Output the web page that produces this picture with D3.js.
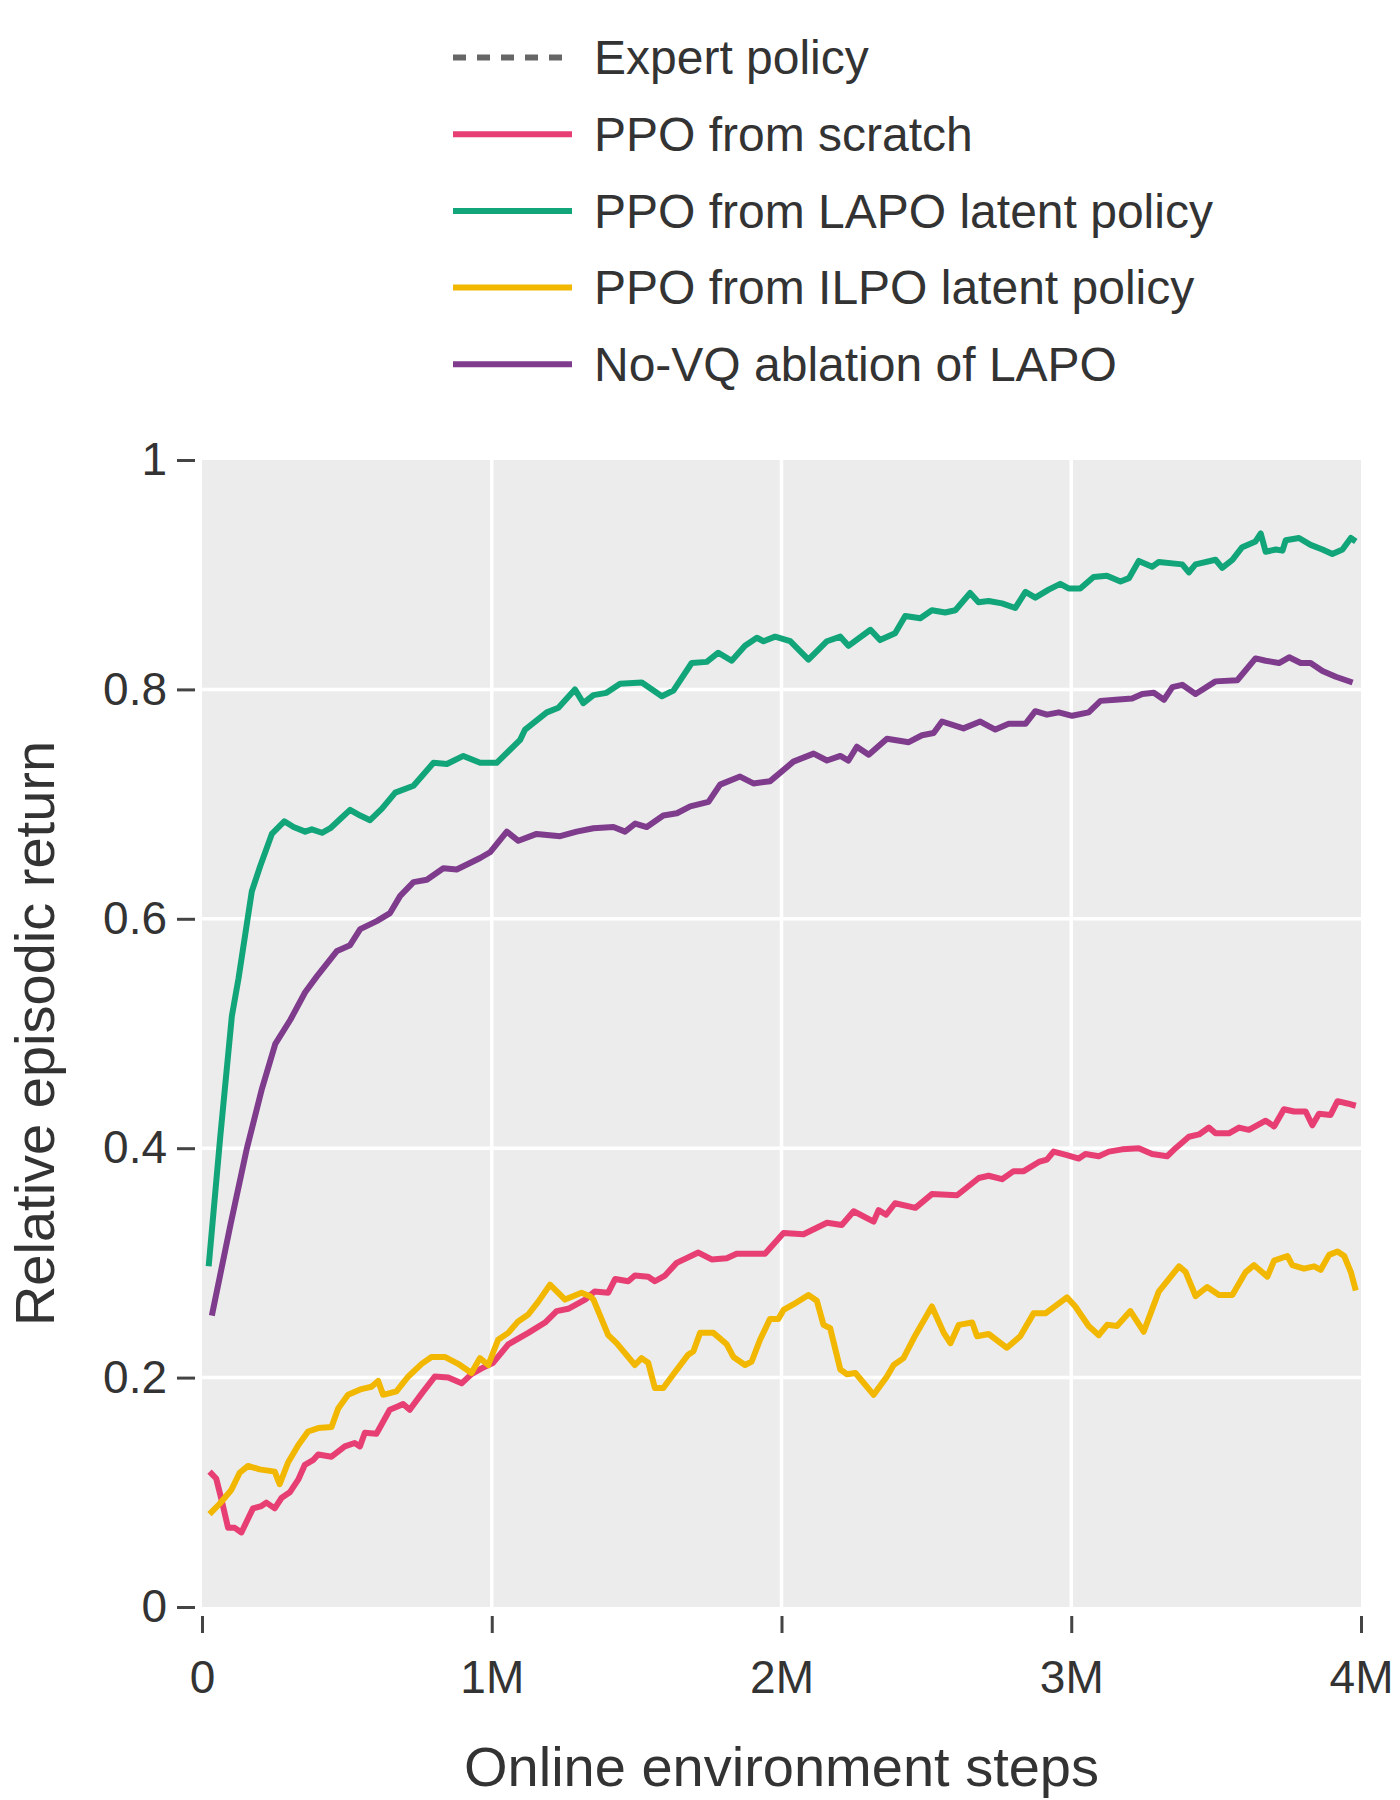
<!DOCTYPE html>
<html>
<head>
<meta charset="utf-8">
<script src="https://cdn.jsdelivr.net/npm/d3@7"></script>
<style>
  body { margin: 0; background: #fff; }
  text { font-family: "Liberation Sans", Arial, sans-serif; fill: #333; }
</style>
</head>
<body>
<svg id="chart"></svg>
<script>
// Each series is [steps in millions, relative episodic return]
const scratch = [
  [0.026,0.118],[0.049,0.112],[0.067,0.094],[0.090,0.069],[0.113,0.069],[0.136,0.065],[0.176,0.086],[0.205,0.088],
  [0.222,0.091],[0.251,0.086],[0.274,0.095],[0.303,0.100],[0.332,0.111],[0.355,0.124],[0.383,0.128],[0.401,0.133],
  [0.447,0.131],[0.493,0.140],[0.527,0.143],[0.545,0.140],[0.562,0.152],[0.602,0.151],[0.648,0.172],[0.677,0.175],
  [0.694,0.177],[0.717,0.172],[0.758,0.186],[0.804,0.201],[0.850,0.200],[0.896,0.195],[0.930,0.203],[0.965,0.208],
  [1.005,0.213],[1.057,0.229],[1.126,0.239],[1.184,0.248],[1.224,0.258],[1.264,0.260],[1.322,0.268],[1.355,0.275],
  [1.402,0.274],[1.426,0.286],[1.471,0.284],[1.494,0.289],[1.540,0.288],[1.563,0.284],[1.598,0.289],[1.638,0.300],
  [1.713,0.309],[1.759,0.303],[1.811,0.304],[1.845,0.308],[1.943,0.308],[2.007,0.326],[2.076,0.325],[2.157,0.335],
  [2.208,0.333],[2.249,0.345],[2.318,0.336],[2.335,0.346],[2.361,0.342],[2.392,0.352],[2.462,0.348],[2.519,0.360],
  [2.606,0.359],[2.681,0.374],[2.715,0.376],[2.761,0.373],[2.801,0.380],[2.836,0.380],[2.888,0.388],[2.916,0.390],
  [2.939,0.397],[2.985,0.394],[3.026,0.391],[3.049,0.395],[3.095,0.393],[3.130,0.397],[3.176,0.399],[3.233,0.400],
  [3.279,0.395],[3.331,0.393],[3.360,0.400],[3.406,0.410],[3.441,0.412],[3.475,0.418],[3.498,0.413],[3.544,0.413],
  [3.579,0.418],[3.613,0.416],[3.671,0.424],[3.700,0.419],[3.734,0.434],[3.769,0.432],[3.809,0.432],[3.832,0.420],
  [3.855,0.430],[3.895,0.429],[3.919,0.441],[3.953,0.439],[3.982,0.437]
];

const lapo = [
  [0.023,0.297],[0.063,0.410],[0.103,0.515],[0.126,0.548],[0.155,0.596],[0.172,0.624],[0.201,0.646],[0.241,0.674],
  [0.284,0.685],[0.316,0.680],[0.356,0.676],[0.379,0.678],[0.414,0.675],[0.443,0.679],[0.477,0.687],[0.511,0.695],
  [0.546,0.690],[0.580,0.686],[0.621,0.696],[0.667,0.710],[0.730,0.716],[0.799,0.736],[0.845,0.735],[0.902,0.742],
  [0.960,0.736],[1.017,0.736],[1.098,0.756],[1.115,0.765],[1.190,0.780],[1.230,0.784],[1.287,0.800],[1.316,0.788],
  [1.351,0.795],[1.396,0.797],[1.443,0.805],[1.518,0.806],[1.587,0.794],[1.627,0.799],[1.690,0.823],[1.742,0.824],
  [1.782,0.832],[1.828,0.825],[1.874,0.838],[1.915,0.845],[1.938,0.842],[1.978,0.846],[2.030,0.842],[2.093,0.826],
  [2.157,0.842],[2.203,0.846],[2.231,0.838],[2.307,0.852],[2.340,0.843],[2.392,0.849],[2.427,0.864],[2.479,0.862],
  [2.519,0.869],[2.565,0.867],[2.600,0.869],[2.651,0.884],[2.680,0.876],[2.715,0.877],[2.761,0.875],[2.807,0.871],
  [2.842,0.885],[2.876,0.880],[2.922,0.887],[2.962,0.892],[2.991,0.888],[3.031,0.888],[3.077,0.898],[3.123,0.899],
  [3.170,0.894],[3.199,0.897],[3.233,0.912],[3.279,0.907],[3.302,0.911],[3.383,0.909],[3.406,0.902],[3.429,0.909],
  [3.498,0.913],[3.521,0.906],[3.556,0.913],[3.590,0.924],[3.636,0.929],[3.654,0.936],[3.671,0.920],[3.706,0.922],
  [3.729,0.921],[3.740,0.930],[3.786,0.932],[3.826,0.926],[3.867,0.922],[3.901,0.918],[3.936,0.922],[3.965,0.932],
  [3.982,0.929]
];

const ilpo = [
  [0.026,0.081],[0.061,0.090],[0.101,0.102],[0.130,0.117],[0.159,0.123],[0.199,0.120],[0.251,0.118],[0.268,0.107],
  [0.297,0.126],[0.332,0.141],[0.366,0.153],[0.401,0.156],[0.447,0.157],[0.470,0.173],[0.504,0.185],[0.550,0.190],
  [0.585,0.192],[0.608,0.197],[0.625,0.185],[0.671,0.188],[0.712,0.201],[0.758,0.212],[0.792,0.218],[0.838,0.218],
  [0.884,0.212],[0.930,0.204],[0.959,0.217],[0.988,0.211],[1.022,0.233],[1.057,0.239],[1.091,0.249],[1.126,0.255],
  [1.160,0.266],[1.201,0.281],[1.253,0.268],[1.310,0.274],[1.339,0.271],[1.351,0.268],[1.402,0.237],[1.431,0.230],
  [1.494,0.211],[1.517,0.217],[1.540,0.213],[1.563,0.191],[1.592,0.191],[1.627,0.203],[1.678,0.220],[1.696,0.223],
  [1.719,0.239],[1.765,0.239],[1.811,0.229],[1.834,0.218],[1.874,0.211],[1.897,0.214],[1.926,0.233],[1.960,0.251],
  [1.989,0.251],[2.007,0.259],[2.042,0.264],[2.093,0.272],[2.122,0.267],[2.145,0.246],[2.168,0.243],[2.203,0.207],
  [2.226,0.203],[2.255,0.204],[2.318,0.185],[2.364,0.201],[2.387,0.211],[2.421,0.217],[2.462,0.237],[2.519,0.262],
  [2.560,0.239],[2.583,0.230],[2.612,0.246],[2.658,0.248],[2.675,0.236],[2.715,0.238],[2.778,0.226],[2.824,0.236],
  [2.870,0.256],[2.911,0.256],[2.985,0.270],[3.014,0.262],[3.060,0.245],[3.095,0.237],[3.124,0.246],[3.158,0.245],
  [3.204,0.258],[3.250,0.240],[3.302,0.275],[3.372,0.297],[3.395,0.292],[3.429,0.271],[3.469,0.279],[3.510,0.272],
  [3.556,0.272],[3.602,0.292],[3.631,0.298],[3.677,0.288],[3.700,0.302],[3.746,0.306],[3.763,0.298],[3.803,0.295],
  [3.838,0.297],[3.861,0.294],[3.890,0.307],[3.919,0.310],[3.942,0.306],[3.965,0.292],[3.982,0.276]
];

const noVq = [
  [0.034,0.254],[0.098,0.333],[0.155,0.400],[0.207,0.452],[0.253,0.491],[0.305,0.512],[0.356,0.536],[0.397,0.550],
  [0.466,0.572],[0.511,0.577],[0.546,0.591],[0.603,0.598],[0.649,0.605],[0.684,0.620],[0.730,0.632],[0.776,0.634],
  [0.833,0.644],[0.879,0.643],[0.960,0.653],[0.994,0.658],[1.052,0.676],[1.092,0.668],[1.155,0.674],[1.236,0.672],
  [1.293,0.676],[1.351,0.679],[1.420,0.680],[1.460,0.676],[1.495,0.683],[1.535,0.680],[1.592,0.690],[1.639,0.692],
  [1.685,0.698],[1.748,0.702],[1.788,0.717],[1.857,0.724],[1.903,0.718],[1.961,0.720],[2.041,0.737],[2.111,0.744],
  [2.157,0.738],[2.203,0.742],[2.231,0.738],[2.260,0.750],[2.301,0.743],[2.364,0.757],[2.439,0.754],[2.485,0.760],
  [2.525,0.762],[2.554,0.772],[2.628,0.766],[2.686,0.772],[2.715,0.768],[2.738,0.765],[2.784,0.770],[2.842,0.770],
  [2.876,0.781],[2.916,0.778],[2.957,0.780],[3.003,0.777],[3.060,0.780],[3.101,0.790],[3.153,0.791],[3.210,0.792],
  [3.245,0.796],[3.285,0.797],[3.320,0.791],[3.349,0.802],[3.383,0.804],[3.429,0.796],[3.498,0.807],[3.573,0.808],
  [3.636,0.827],[3.671,0.825],[3.717,0.823],[3.752,0.828],[3.792,0.823],[3.826,0.823],[3.867,0.816],[3.913,0.811],
  [3.971,0.806]
];

const legendLabels = ["Expert policy", "PPO from scratch", "PPO from LAPO latent policy",
                      "PPO from ILPO latent policy", "No-VQ ablation of LAPO"];
const legendColors = ["#666666", "#e73f74", "#11a579", "#f2b701", "#7f3c8d"];
const seriesData = [null, scratch, lapo, ilpo, noVq];

const xTicks = [0, 1, 2, 3, 4];
const yTicks = [0, 0.2, 0.4, 0.6, 0.8, 1];

const width = 1400, height = 1800;
const plot = {left: 202, right: 1361, top: 460, bottom: 1607};

const svg = d3.select("#chart")
    .attr("width", width)
    .attr("height", height);

const x = d3.scaleLinear().domain([0, 4]).range([plot.left, plot.right]);
const y = d3.scaleLinear().domain([0, 1]).range([plot.bottom, plot.top]);

// Grey panel and white grid
svg.append("rect")
    .attr("x", plot.left)
    .attr("y", plot.top)
    .attr("width", plot.right - plot.left)
    .attr("height", plot.bottom - plot.top)
    .attr("fill", "#ececec");

svg.append("g").selectAll("line")
    .data(xTicks.slice(1, -1))
    .enter().append("line")
    .attr("x1", d => x(d)).attr("x2", d => x(d))
    .attr("y1", plot.top).attr("y2", plot.bottom)
    .attr("stroke", "#fff").attr("stroke-width", 3.5);

svg.append("g").selectAll("line")
    .data(yTicks.slice(1, -1))
    .enter().append("line")
    .attr("x1", plot.left).attr("x2", plot.right)
    .attr("y1", d => y(d)).attr("y2", d => y(d))
    .attr("stroke", "#fff").attr("stroke-width", 3.5);

// Axes, set a little away from the panel
const yAxis = svg.append("g")
    .attr("transform", "translate(195,0)")
    .call(d3.axisLeft(y).tickValues(yTicks).tickSize(18).tickPadding(10)
        .tickFormat(d => String(+d.toFixed(1))));

const xAxis = svg.append("g")
    .attr("transform", "translate(0,1616)")
    .call(d3.axisBottom(x).tickValues(xTicks).tickSize(17).tickPadding(27)
        .tickFormat(d => d === 0 ? "0" : d + "M"));

[xAxis, yAxis].forEach(a => {
    a.select(".domain").remove();
    a.selectAll(".tick line").attr("stroke", "#444").attr("stroke-width", 3);
    a.selectAll(".tick text").attr("fill", "#333").style("font-size", "46px")
        .style("font-family", "'Liberation Sans', Arial, sans-serif");
});

// Axis titles
svg.append("text")
    .attr("x", (plot.left + plot.right) / 2)
    .attr("y", 1786)
    .attr("text-anchor", "middle")
    .style("font-size", "56px")
    .text("Online environment steps");

svg.append("text")
    .attr("transform", `translate(54,${(plot.top + plot.bottom) / 2}) rotate(-90)`)
    .attr("text-anchor", "middle")
    .style("font-size", "56px")
    .text("Relative episodic return");

// Lines
const line = d3.line().x(d => x(d[0])).y(d => y(d[1]));

seriesData.forEach((s, i) => {
    if (!s) return;
    svg.append("path")
        .datum(s)
        .attr("fill", "none")
        .attr("stroke", legendColors[i])
        .attr("stroke-width", 6)
        .attr("stroke-linejoin", "round")
        .attr("d", line);
});

// Legend
const legend = svg.selectAll(".legend")
    .data(legendLabels)
    .enter().append("g")
    .attr("class", "legend")
    .attr("transform", (d, i) => `translate(0,${57.5 + i * 76.7})`);

legend.append("line")
    .attr("x1", 453)
    .attr("x2", (d, i) => i === 0 ? 563 : 572)
    .attr("y1", 0).attr("y2", 0)
    .attr("stroke", (d, i) => legendColors[i])
    .attr("stroke-width", 6)
    .attr("stroke-dasharray", (d, i) => i === 0 ? "13,11" : null);

legend.append("text")
    .attr("x", 594)
    .attr("y", 0)
    .attr("dy", "0.35em")
    .style("font-size", "48px")
    .text(d => d);
</script>
</body>
</html>
